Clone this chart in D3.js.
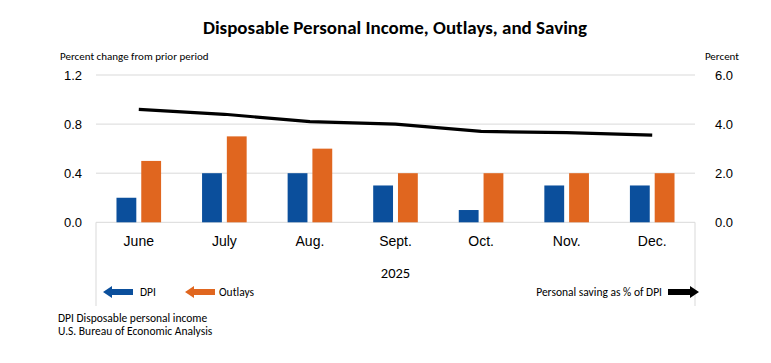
<!DOCTYPE html>
<html>
<head>
<meta charset="utf-8">
<script src="https://cdn.jsdelivr.net/npm/d3@7"></script>
<style>
  body { margin: 0; background: #fff; }
  svg { font-family: Carlito, Calibri, Lato, sans-serif; }
</style>
</head>
<body>
<div id="chart"></div>
<script>
var months = ['June', 'July', 'Aug.', 'Sept.', 'Oct.', 'Nov.', 'Dec.'];
var dpi = [0.2, 0.4, 0.4, 0.3, 0.1, 0.3, 0.3];
var outlays = [0.5, 0.7, 0.6, 0.4, 0.4, 0.4, 0.4];
var savingRate = [4.6, 4.4, 4.1, 4.0, 3.7, 3.65, 3.55];
var leftTicks = [0.0, 0.4, 0.8, 1.2];
var rightTicks = [0.0, 2.0, 4.0, 6.0];

var BLUE = '#0b4f9c';
var ORANGE = '#e0661f';
var GRID = '#d9d9d9';

var width = 771, height = 363;
var plotLeft = 96, plotRight = 695, plotTop = 75, plotBottom = 222.3;

var svg = d3.select('#chart')
  .append('svg')
  .attr('width', width)
  .attr('height', height);

var x = d3.scaleBand().domain(months).range([plotLeft, plotRight]);
var xInner = d3.scaleBand()
  .domain(['dpi', 'outlays'])
  .range([x.bandwidth() / 2 - 22.3, x.bandwidth() / 2 + 22.3])
  .paddingInner(0.2);
var yLeft = d3.scaleLinear().domain([0, 1.2]).range([plotBottom, plotTop]);
var yRight = d3.scaleLinear().domain([0, 6]).range([plotBottom, plotTop]);

// title
svg.append('text')
  .attr('x', 395).attr('y', 34)
  .attr('text-anchor', 'middle')
  .style('font-size', '19px').style('font-weight', 'bold')
  .text('Disposable Personal Income, Outlays, and Saving');

// axis titles
svg.append('text')
  .attr('x', 60).attr('y', 60)
  .style('font-size', '11px')
  .text('Percent change from prior period');
svg.append('text')
  .attr('x', 739).attr('y', 60)
  .attr('text-anchor', 'end')
  .style('font-size', '11px')
  .text('Percent');

// gridlines
svg.append('g')
  .selectAll('line')
  .data(leftTicks)
  .join('line')
  .attr('x1', plotLeft).attr('x2', plotRight)
  .attr('y1', d => yLeft(d)).attr('y2', d => yLeft(d))
  .attr('stroke', GRID).attr('stroke-width', 1);

// frame lines under the category axis
svg.append('g')
  .selectAll('line')
  .data([plotLeft, plotRight])
  .join('line')
  .attr('x1', d => d).attr('x2', d => d)
  .attr('y1', plotBottom).attr('y2', 306)
  .attr('stroke', GRID).attr('stroke-width', 1);

// left axis
var leftAxis = svg.append('g')
  .attr('transform', 'translate(' + (plotLeft - 14) + ',0)')
  .call(d3.axisLeft(yLeft).tickValues(leftTicks).tickFormat(d3.format('.1f')).tickSize(0).tickPadding(0));
leftAxis.select('.domain').remove();
leftAxis.selectAll('text').style('font-size', '13px').style('font-family', null).attr('fill', '#000');

// right axis
var rightAxis = svg.append('g')
  .attr('transform', 'translate(' + (plotRight + 20) + ',0)')
  .call(d3.axisRight(yRight).tickValues(rightTicks).tickFormat(d3.format('.1f')).tickSize(0).tickPadding(0));
rightAxis.select('.domain').remove();
rightAxis.selectAll('text').style('font-size', '13px').style('font-family', null).attr('fill', '#000');

// bars
var groups = svg.append('g')
  .selectAll('g')
  .data(months)
  .join('g')
  .attr('transform', d => 'translate(' + x(d) + ',0)');

groups.append('rect')
  .attr('x', xInner('dpi'))
  .attr('width', xInner.bandwidth())
  .attr('y', (d, i) => yLeft(dpi[i]))
  .attr('height', (d, i) => yLeft(0) - yLeft(dpi[i]))
  .attr('fill', BLUE);

groups.append('rect')
  .attr('x', xInner('outlays'))
  .attr('width', xInner.bandwidth())
  .attr('y', (d, i) => yLeft(outlays[i]))
  .attr('height', (d, i) => yLeft(0) - yLeft(outlays[i]))
  .attr('fill', ORANGE);

// saving line
var line = d3.line()
  .x((d, i) => x(months[i]) + x.bandwidth() / 2)
  .y(d => yRight(d));

svg.append('path')
  .datum(savingRate)
  .attr('d', line)
  .attr('fill', 'none')
  .attr('stroke', '#000')
  .attr('stroke-width', 3.2);

// category axis
var bottomAxis = svg.append('g')
  .attr('transform', 'translate(0,' + plotBottom + ')')
  .call(d3.axisBottom(x).tickSize(0).tickPadding(14));
bottomAxis.select('.domain').remove();
bottomAxis.selectAll('text').style('font-size', '14px').style('font-family', null).attr('fill', '#000');

svg.append('text')
  .attr('x', (plotLeft + plotRight) / 2).attr('y', 278)
  .attr('text-anchor', 'middle')
  .style('font-size', '14.5px')
  .text('2025');

// legend arrows
function arrow(x0, x1, y, color) {
  // block arrow from x0 (tail) to x1 (tip)
  var dir = x1 > x0 ? 1 : -1;
  var head = 9 * dir;
  var pts = [
    [x0, y - 3], [x1 - head, y - 3], [x1 - head, y - 6], [x1, y],
    [x1 - head, y + 6], [x1 - head, y + 3], [x0, y + 3]
  ];
  svg.append('polygon')
    .attr('points', pts.map(p => p.join(',')).join(' '))
    .attr('fill', color);
}

var legendY = 292;
arrow(133, 103, legendY, BLUE);
svg.append('text').attr('x', 140).attr('y', legendY + 4)
  .style('font-size', '11.5px').text('DPI');
arrow(215, 185, legendY, ORANGE);
svg.append('text').attr('x', 219).attr('y', legendY + 4)
  .style('font-size', '11.5px').text('Outlays');
arrow(668, 699, legendY, '#000');
svg.append('text').attr('x', 662).attr('y', legendY + 4)
  .attr('text-anchor', 'end')
  .style('font-size', '11.5px').text('Personal saving as % of DPI');

// footer
svg.append('text').attr('x', 58).attr('y', 322)
  .style('font-size', '11.5px').text('DPI Disposable personal income');
svg.append('text').attr('x', 58).attr('y', 335)
  .style('font-size', '11.5px').text('U.S. Bureau of Economic Analysis');
</script>
</body>
</html>
